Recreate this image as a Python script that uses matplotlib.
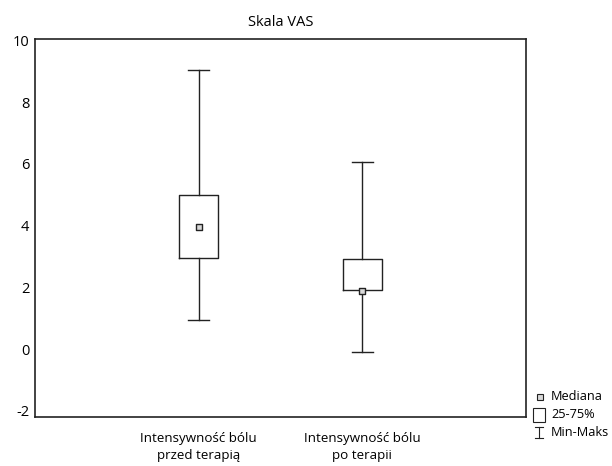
import matplotlib
matplotlib.use("Agg")
import matplotlib.pyplot as plt
from matplotlib.patches import Rectangle
from matplotlib.lines import Line2D

# values
labels = ["Intensywność bólu\nprzed terapią", "Intensywność bólu\npo terapii"]
medians = [3.97, 1.88]
q1 = [2.95, 1.93]
q3 = [5.0, 2.93]
mins = [0.95, -0.1]
maxs = [9.06, 6.05]
yticks = [-2, 0, 2, 4, 6, 8, 10]

plt.rcParams["font.family"] = ["Open Sans", "DejaVu Sans"]
plt.rcParams["font.size"] = 9

fig = plt.figure(figsize=(6.12, 4.66), dpi=100)
ax = fig.add_axes([35 / 612, 1 - 417 / 466, 491 / 612, 378 / 466])

stats = []
for i in range(len(labels)):
    stats.append({"med": medians[i], "q1": q1[i], "q3": q3[i],
                  "whislo": mins[i], "whishi": maxs[i], "fliers": []})

pos = list(range(1, len(labels) + 1))
line = dict(color="#222222", linewidth=1.0)
ax.bxp(stats, positions=pos, widths=0.24, capwidths=0.13, showfliers=False,
       boxprops=line, whiskerprops=line, capprops=line,
       medianprops=dict(linewidth=0), manage_ticks=False)
ax.scatter(pos, medians, marker="s", s=22, facecolor="#d8d8d8",
           edgecolor="#222222", linewidth=1.0, zorder=3)

ax.set_xlim(0, 3)
ax.set_ylim(-2.2, 10.05)
ax.set_yticks(yticks)
ax.set_yticklabels([str(t) for t in yticks], fontsize=10.5)
ax.set_xticks(pos)
ax.set_xticklabels(labels, fontsize=9.6, linespacing=1.35)
ax.tick_params(length=0, pad=4)
ax.tick_params(axis="x", pad=11)
for s in ax.spines.values():
    s.set_linewidth(1.2)
    s.set_color("#222222")
ax.set_title("Skala VAS", fontsize=10.5, pad=9)

# legend drawn by hand to the right of the plot
W, H = 612, 466
def fx(px):
    return px / W
def fy(py):
    return 1 - py / H

fig.add_artist(Line2D([fx(540)], [fy(397)], marker="s", markersize=4,
                      markerfacecolor="#d8d8d8", markeredgecolor="#222222",
                      markeredgewidth=0.8, transform=fig.transFigure))
fig.text(fx(551), fy(397), "Mediana", va="center", fontsize=9.2)
fig.add_artist(Rectangle((fx(533), fy(422)), fx(12), 14 / H, fill=False,
                         edgecolor="#222222", linewidth=0.8,
                         transform=fig.transFigure))
fig.text(fx(551), fy(414), "25-75%", va="center", fontsize=9.2)
fig.add_artist(Line2D([fx(539), fx(539)], [fy(427), fy(438)], color="#222222",
                      linewidth=0.8, transform=fig.transFigure))
for yy in (427, 438):
    fig.add_artist(Line2D([fx(535), fx(543)], [fy(yy), fy(yy)], color="#222222",
                          linewidth=0.8, transform=fig.transFigure))
fig.text(fx(551), fy(432), "Min-Maks", va="center", fontsize=9.2)

fig.savefig("out.png", dpi=100)
